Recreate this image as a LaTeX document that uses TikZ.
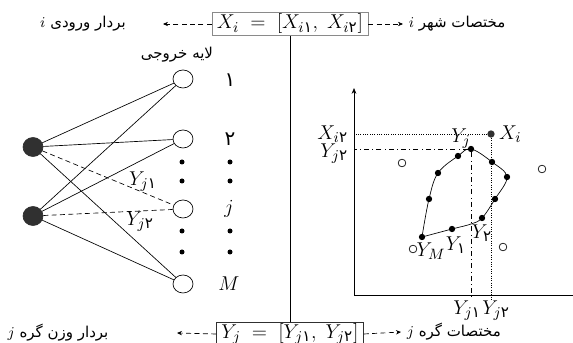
\documentclass[tikz,border=0pt]{standalone}
\usepackage{amsmath}
\usepackage{fontspec}
\newfontfamily\fafont[Script=Arabic]{DejaVu Sans}
\TeXXeTstate=1
\usetikzlibrary{arrows.meta, positioning, calc, shapes.geometric}
\definecolor{boxgray}{HTML}{8A8A8A}
\definecolor{dkgray}{HTML}{303030}

% persian digit inside math
\newcommand{\fd}[1]{\text{\fafont #1}}
\newcommand{\mfont}{\fontsize{13}{16}\selectfont}

\tikzset{
  outnode/.style={draw, ellipse, minimum width=12pt, minimum height=10.8pt, inner sep=0pt},
  innode/.style={fill=dkgray, draw=dkgray, ellipse, minimum width=12pt, minimum height=11.4pt, inner sep=0pt},
  vecbox/.style={draw, inner xsep=3pt, inner ysep=1pt, font=\mfont},
  dasharr/.style={dash pattern=on 3pt off 2pt, -{Stealth[length=3pt, width=2.6pt]}},
  pdot/.style={circle, fill, inner sep=0pt, minimum size=3.8pt},
  odot/.style={circle, draw, inner sep=0pt, minimum size=4.6pt},
  sdot/.style={circle, fill, inner sep=0pt, minimum size=3pt},
  falabel/.style={font=\fafont\small},
  mlabel/.style={font=\mfont, inner sep=1pt}
}

\begin{document}
\begin{tikzpicture}[x=0.6pt, y=-0.6pt]

\useasboundingbox (0,0) rectangle (573,343);
\clip (0,0) rectangle (573,343);

% Vector boxes
\node[vecbox, draw=boxgray] (xbox) at (290,24) {$X_i \;=\; [X_{i\fd{۱}},\; X_{i\fd{۲}}]$};
\node[vecbox, draw=dkgray] (ybox) at (290,334) {$Y_j \;=\; [Y_{j\fd{۱}},\; Y_{j\fd{۲}}]$};
\draw (xbox.south) -- (ybox.north);

% Side labels
\node[falabel] (inlabel) at (83,24) {\beginR بردار ورودی $i$\endR};
\node[falabel, anchor=west] (citylabel) at (403,24) {\beginR مختصات شهر $i$\endR};
\node[falabel] (wlabel) at (58,333) {\beginR بردار وزن گره $j$\endR};
\node[falabel, anchor=west] (nodelabel) at (401,332) {\beginR مختصات گره $j$\endR};
\coordinate (intip) at (163,24);
\coordinate (wtip) at (177,333);
\draw[dasharr] (xbox.west) -- (intip);
\draw[dasharr] (xbox.east) -- (citylabel.west);
\draw[dasharr] (ybox.west) -- (wtip);
\draw[dasharr] (ybox.east) -- (nodelabel.west);

% Network
\node[falabel] (layer) at (177,55) {\beginR لایه خروجی\endR};
\node[innode] (in1) at (33,147) {};
\node[innode] (in2) at (33,216) {};
\node[outnode] (o1) at (183,79) {};
\node[outnode] (o2) at (183,139) {};
\node[outnode] (oj) at (183,209) {};
\node[outnode] (oM) at (183,284) {};

\foreach \a in {in1,in2} {
  \draw (\a) -- (o1);
  \draw (\a) -- (o2);
  \draw (\a) -- (oM);
  \draw[densely dashed] (\a) -- (oj);
}

\node[mlabel] (wj1) at (143,182) {$Y_{j\fd{۱}}$};
\node[mlabel] (wj2) at (140,222) {$Y_{j\fd{۲}}$};

% dots between output nodes and their labels
\foreach \y [count=\k] in {162,181,231,252} {
  \node[sdot] (da\k) at (182,\y) {};
  \node[sdot] (db\k) at (230,\y) {};
}
\node[font=\fafont\large] (l1) at (230,80) {۱};
\node[font=\fafont\large] (l2) at (230,139) {۲};
\node[mlabel] (lj) at (229,209) {$j$};
\node[mlabel] (lM) at (229,284) {$M$};

% Plane
\coordinate (orig) at (354,295);
\coordinate (ytop) at (354,88);
\coordinate (xend) at (573,295);
\draw[-{Stealth[length=3.5pt, width=2.8pt]}] (orig) -- (ytop);
\draw (orig) -- (xend);

% city and winner
\node[pdot, minimum size=4.4pt, fill=dkgray] (xi) at (491,134) {};
\node[pdot] (yj) at (471,149) {};
\draw[densely dotted] (xi) -- (xi -| orig);
\draw[densely dotted] (xi) -- ($(xi |- orig)+(0,5)$);
\draw[dash dot] (yj) -- (yj -| orig);
\draw[dash dot] (yj) -- ($(yj |- orig)+(0,5)$);

% ring of weights
\draw plot[smooth, tension=0.6] coordinates {(422,237) (429,199) (438,173) (458,156) (471,149) (492,162) (507,177) (495,199) (482,218) (471,224) (452,229) (422,237)};
\foreach \p [count=\k] in {(458,156),(438,173),(429,199),(422,237),(452,229),(482,218),(495,199),(507,177),(492,162)} {
  \node[pdot] (r\k) at \p {};
}

% other cities
\foreach \p [count=\k] in {(402,163),(542,169),(413,249),(503,247)} {
  \node[odot] (c\k) at \p {};
}

% labels in plane
\node[mlabel, anchor=west] (xilab) at (497,134) {$X_i$};
\node[mlabel] (yjlab) at (461,139) {$Y_j$};
\node[mlabel] (yMlab) at (431,251) {$Y_M$};
\node[mlabel] (y1lab) at (456,245) {$Y_{\fd{۱}}$};
\node[mlabel] (y2lab) at (482,233) {$Y_{\fd{۲}}$};
\node[mlabel, anchor=east] (xi2lab) at (350,134) {$X_{i\fd{۲}}$};
\node[mlabel, anchor=east] (yj2lab) at (350,154) {$Y_{j\fd{۲}}$};
\node[mlabel] (yj1ax) at (467,311) {$Y_{j\fd{۱}}$};
\node[mlabel] (yj2ax) at (496,311) {$Y_{j\fd{۲}}$};

\end{tikzpicture}
\end{document}
